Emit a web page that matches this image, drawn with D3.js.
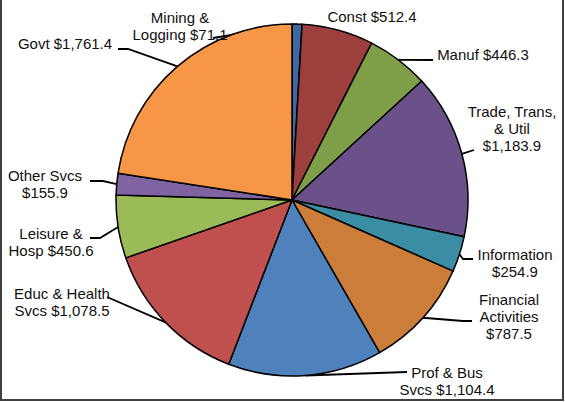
<!DOCTYPE html>
<html>
<head>
<meta charset="utf-8">
<script src="https://cdn.jsdelivr.net/npm/d3@7"></script>
<style>
body { margin: 0; background: #fff; }
#chart { width: 565px; height: 402px; }
</style>
</head>
<body>
<div id="chart"></div>
<script>
var id = 'chart';
var W = 565, H = 402;

// data, clockwise from 12 o'clock
var sectors = ['Mining & Logging', 'Const', 'Manuf', 'Trade, Trans, & Util', 'Information',
	'Financial Activities', 'Prof & Bus Svcs', 'Educ & Health Svcs', 'Leisure & Hosp', 'Other Svcs', 'Govt'];
var values = [71.1, 512.4, 446.3, 1183.9, 254.9, 787.5, 1104.4, 1078.5, 450.6, 155.9, 1761.4];
var labelLines = [
	['Mining &', 'Logging $71.1'],
	['Const $512.4'],
	['Manuf $446.3'],
	['Trade, Trans,', '& Util', '$1,183.9'],
	['Information', '$254.9'],
	['Financial', 'Activities', '$787.5'],
	['Prof & Bus', 'Svcs $1,104.4'],
	['Educ & Health', 'Svcs $1,078.5'],
	['Leisure &', 'Hosp $450.6'],
	['Other Svcs', '$155.9'],
	['Govt $1,761.4']
];

var colors = ['#3e68a3', '#9d403d', '#7f9e48', '#6a5189', '#3b8da3', '#cc7d39',
	'#4f81bd', '#c0504d', '#9bbb59', '#8064a2', '#f79646'];

// label placement: text centre x, first line centre y, leader elbow points (label side)
var labelPos = [
	{x: 180, y: 18, leader: [[213, 38]]},
	{x: 372, y: 17, leader: null},
	{x: 483, y: 55, leader: [[433, 60]]},
	{x: 512, y: 112, leader: [[474, 150]]},
	{x: 515, y: 255, leader: [[463, 259], [473, 259]]},
	{x: 509, y: 300, leader: [[463, 321], [472, 321]]},
	{x: 447, y: 373, leader: [[407, 372]]},
	{x: 62, y: 294, leader: [[107, 297]]},
	{x: 51, y: 234, leader: [[100, 238], [90, 238]]},
	{x: 45, y: 176, leader: [[103, 181], [90, 181]]},
	{x: 65, y: 44, leader: [[128, 49], [118, 49]]}
];

var cx = 292, cy = 200, r = 176;

var svg = d3.select('#' + id)
	.append('svg')
	.attr('width', W)
	.attr('height', H)
	.style('background-color', '#fff');

var pie = d3.pie().sort(null).startAngle(0).endAngle(2 * Math.PI);
var arcs = pie(values);
var arc = d3.arc().innerRadius(0).outerRadius(r);
var edge = d3.arc().innerRadius(r).outerRadius(r);

// leader lines go under the pie
var leaders = svg.append('g');
arcs.forEach(function(d, i) {
	if (!labelPos[i].leader) return;
	var c = edge.centroid(d);
	var pts = [[cx + c[0], cy + c[1]]].concat(labelPos[i].leader);
	leaders.append('path')
		.attr('d', d3.line()(pts))
		.style('fill', 'none')
		.style('stroke', '#000')
		.style('stroke-width', 1.8);
});

var g = svg.append('g')
	.attr('transform', 'translate(' + cx + ',' + cy + ')');

g.selectAll('.slice')
	.data(arcs)
	.enter().append('path')
	.attr('class', 'slice')
	.attr('d', arc)
	.style('fill', function(d, i) { return colors[i]; })
	.style('stroke', '#000')
	.style('stroke-width', 1.5)
	.style('stroke-linejoin', 'round');

var lh = 17;
labelLines.forEach(function(lines, i) {
	var t = svg.append('text')
		.attr('text-anchor', 'middle')
		.style('font-family', '"Liberation Sans", Arial, sans-serif')
		.style('font-size', '15px')
		.style('fill', '#111');
	lines.forEach(function(s, j) {
		t.append('tspan')
			.attr('x', labelPos[i].x)
			.attr('y', labelPos[i].y + j * lh)
			.attr('dy', '0.35em')
			.text(s);
	});
});

// chart frame
svg.append('rect')
	.attr('x', 1)
	.attr('y', -2)
	.attr('width', 562)
	.attr('height', 402)
	.style('fill', 'none')
	.style('stroke', '#404040')
	.style('stroke-width', 2);
</script>
</body>
</html>
